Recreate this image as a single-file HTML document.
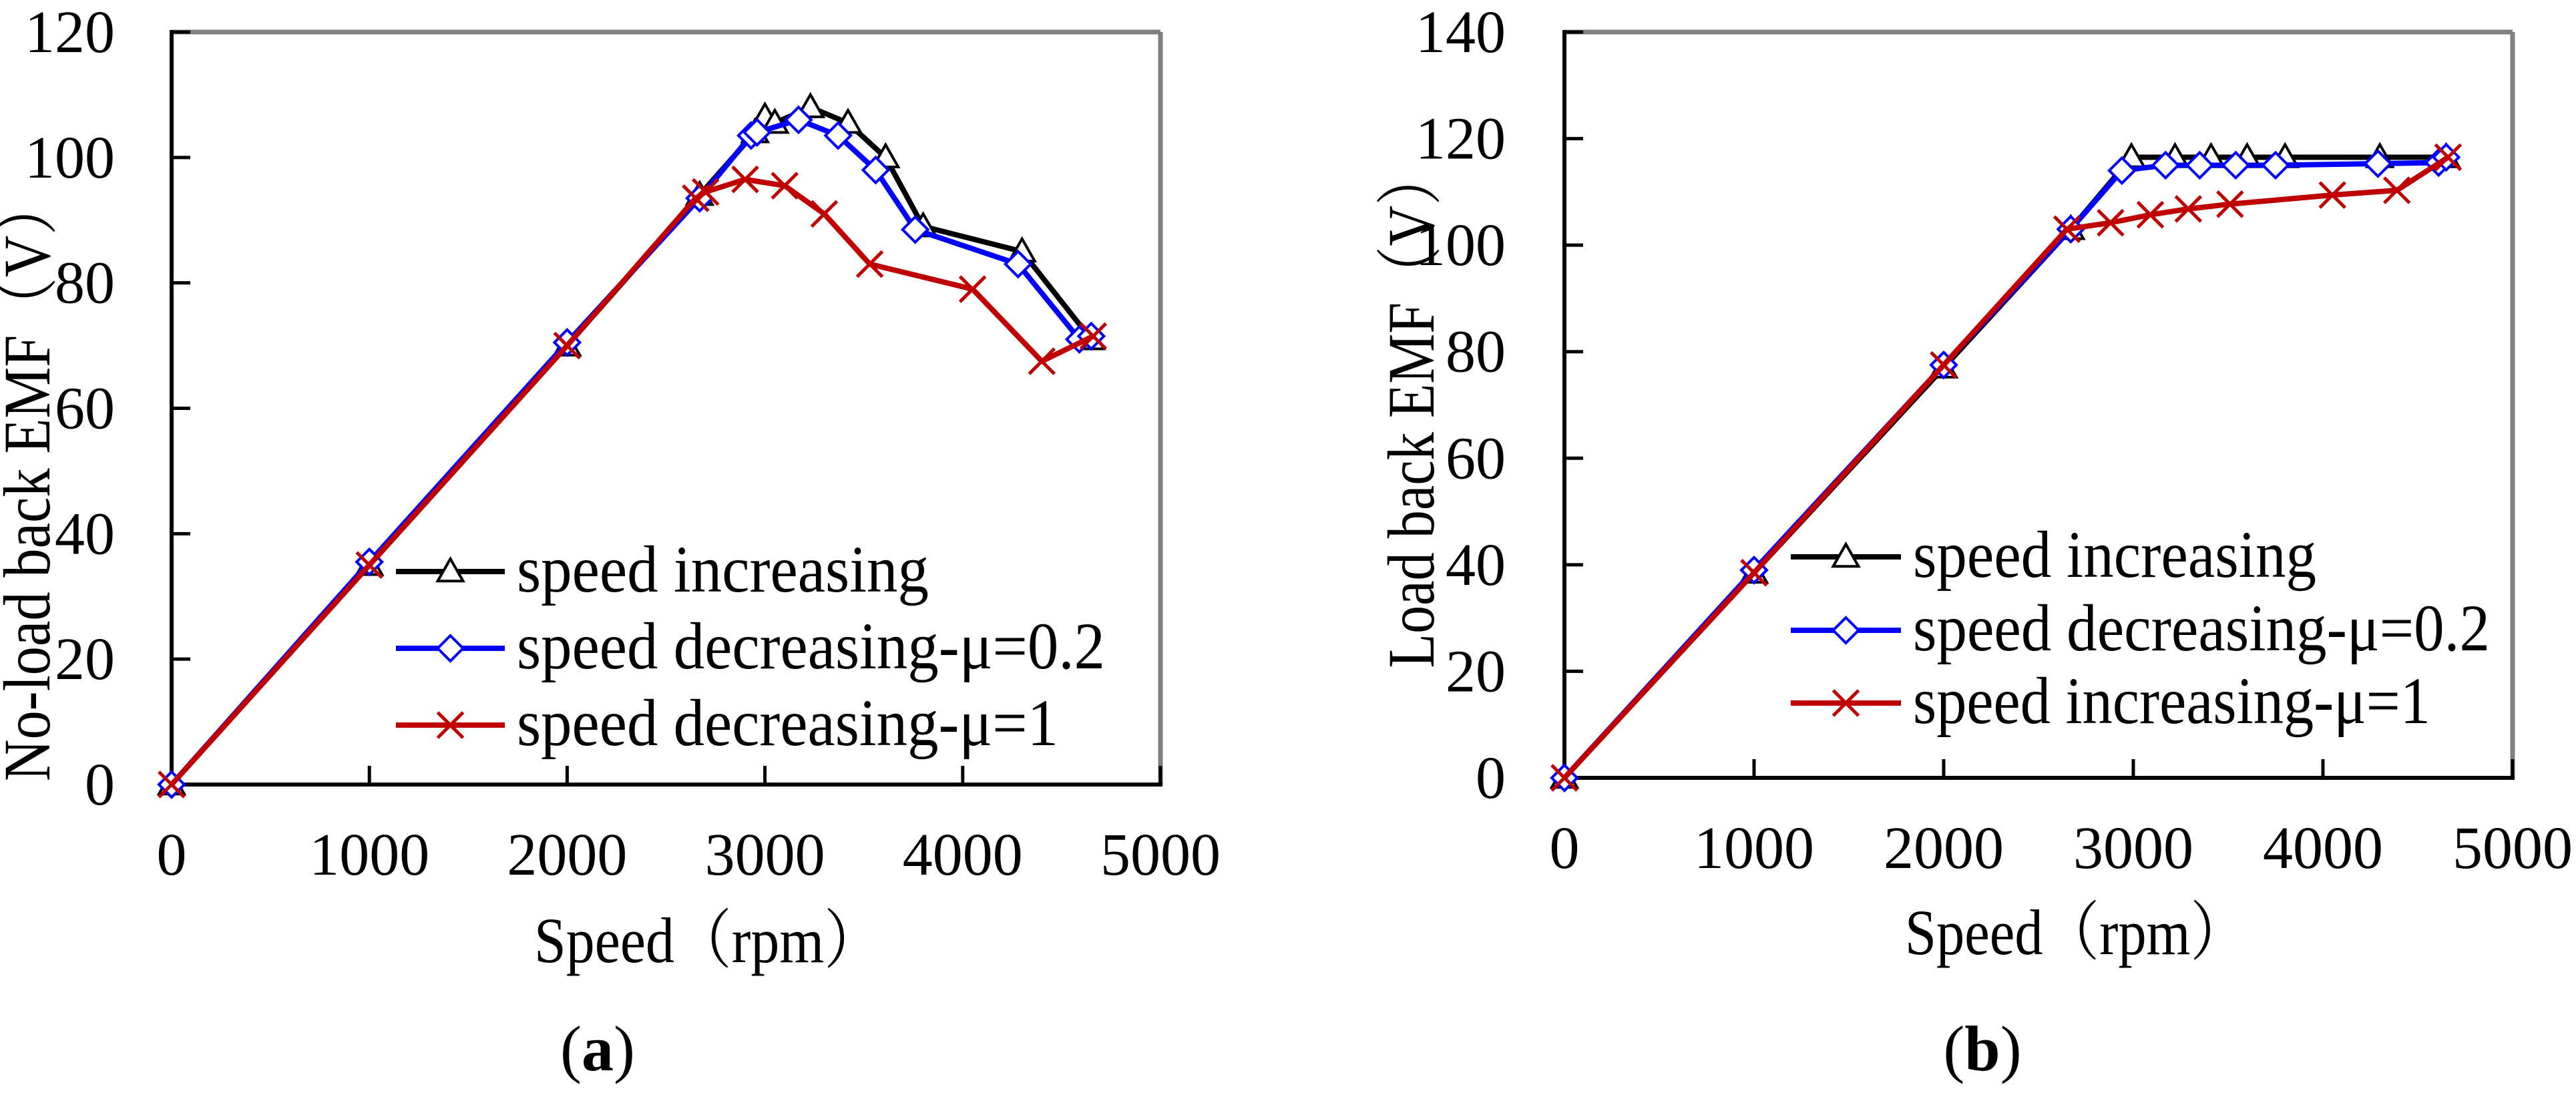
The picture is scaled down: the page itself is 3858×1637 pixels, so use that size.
<!DOCTYPE html>
<html><head><meta charset="utf-8"><style>
html,body{margin:0;padding:0;background:#fff;}
svg{display:block;}
svg text{font-family:"Liberation Serif","Times New Roman","Noto Serif CJK SC",serif;fill:#000;}
</style></head><body>
<svg id="fig" width="3858" height="1637" viewBox="0 0 3858 1637" xmlns="http://www.w3.org/2000/svg" font-family="Liberation Serif, Times New Roman, Noto Serif CJK SC, serif"></svg>
<script>
// ---- Chart (a) data ----
const aIncX = [0,1000,2000,2670,2950,3000,3050,3230,3420,3610,3800,4300,4650];
const aIncY = [0,35,70,94,104,106.5,105.5,108,105.5,100,89,85,71];
const aDec02X = [0,1000,2000,2670,2930,2960,3170,3370,3560,3760,4280,4590,4650];
const aDec02Y = [0,35.5,70.5,93.5,103.5,104,106,103.5,98,88.5,83,71,71.5];
const aDec1X = [0,1000,2000,2650,2700,2900,3100,3300,3530,4050,4400,4660];
const aDec1Y = [0,35,70,93.5,94.5,96.5,95.5,91,83,79,67.5,71.5];
const aYTicks = [0,20,40,60,80,100,120];
// ---- Chart (b) data ----
const bIncX = [0,1000,2000,2670,2990,3220,3410,3600,3800,4300,4650];
const bIncY = [0,38.5,77,103,116.5,116.5,116.5,116.5,116.5,116.5,116.5];
const bDec02X = [0,1000,2000,2670,2940,3170,3350,3540,3750,4290,4610,4650];
const bDec02Y = [0,39,77.5,103,114,115,115,115,115,115.3,115.5,116.5];
const bInc1X = [0,1000,2000,2650,2880,3090,3290,3510,4050,4390,4660];
const bInc1Y = [0,38.5,77.5,103,104.2,105.7,106.8,107.7,109.4,110.3,116.5];
const bYTicks = [0,20,40,60,80,100,120,140];
const xTicks = [0,1000,2000,3000,4000,5000];

const NS="http://www.w3.org/2000/svg";
const FF='"Liberation Serif","Times New Roman","Noto Serif CJK SC",serif';
const svg=document.getElementById('fig');
function mk(tag,attrs,parent){const e=document.createElementNS(NS,tag);for(const k in attrs)e.setAttribute(k,attrs[k]);if(tag==='text')e.style.fontFamily=FF;(parent||svg).appendChild(e);return e;}

function drawChart(cfg){
  const g=mk('g',{});
  
  
  const sx=v=>cfg.L+(v/5000)*(cfg.R-cfg.L);
  const sy=v=>cfg.B-(v/cfg.ymax)*(cfg.B-cfg.T);
  const fr=mk('g',{},g);
  
  
  mk('line',{x1:cfg.L,y1:cfg.T,x2:cfg.R,y2:cfg.T,stroke:'#808080','stroke-width':7},fr);
  mk('line',{x1:cfg.R,y1:cfg.T,x2:cfg.R,y2:cfg.B,stroke:'#808080','stroke-width':7},fr);
  mk('line',{x1:cfg.L,y1:cfg.T-3,x2:cfg.L,y2:cfg.B+3,stroke:'#000','stroke-width':6},fr);
  mk('line',{x1:cfg.L-3,y1:cfg.B,x2:cfg.R+3,y2:cfg.B,stroke:'#000','stroke-width':6},fr);
  cfg.yTicks.forEach(v=>{
    const y=sy(v);
    const tk=mk('line',{x1:cfg.L,y1:y,x2:cfg.L+28,y2:y,stroke:'#000','stroke-width':5},g);
    
    
    const t=mk('text',{x:cfg.yLabX,y:y+30,'text-anchor':'end','font-size':90},g);
    
    
    t.textContent=v;
  });
  xTicks.forEach(v=>{
    const x=sx(v);
    const tk=mk('line',{x1:x,y1:cfg.B,x2:x,y2:cfg.B-28,stroke:'#000','stroke-width':5},g);
    
    
    const t=mk('text',{x:x,y:cfg.xLabY,'text-anchor':'middle','font-size':90},g);
    
    
    t.textContent=v;
  });
  cfg.series.forEach(s=>{
    const sg=mk('g',{},g);
    
    
    const pts=s.x.map((v,i)=>sx(v)+','+sy(s.y[i])).join(' ');
    mk('polyline',{points:pts,fill:'none',stroke:s.color,'stroke-width':8,'stroke-linejoin':'round'},sg);
    s.x.forEach((v,i)=>{marker(sg,s.m,sx(v),sy(s.y[i]),s.color);});
  });
  cfg.legend.forEach((l,i)=>{
    const lg=mk('g',{},g);
    
    
    mk('line',{x1:cfg.legX1,y1:l.ly,x2:cfg.legX2,y2:l.ly,stroke:l.color,'stroke-width':8},lg);
    marker(lg,l.m,(cfg.legX1+cfg.legX2)/2,l.ly,l.color);
    const t=mk('text',{x:cfg.legTX,y:l.ly+30,'font-size':100,textLength:l.len,lengthAdjust:'spacingAndGlyphs'},lg);
    t.textContent=l.text;
  });
  const yt=mk('text',{transform:`translate(${cfg.yTitX},${cfg.yTitC}) rotate(-90)`,'text-anchor':'middle','font-size':100,textLength:cfg.yTitLen,lengthAdjust:'spacingAndGlyphs'},g);
  
  
  yt.textContent=cfg.yTitle;
  const xt=mk('text',{x:cfg.xTitX,y:cfg.xTitY,'font-size':96,textLength:cfg.xTitLen,lengthAdjust:'spacingAndGlyphs'},g);
  
  
  xt.textContent='Speed（rpm）';
  const cap=mk('text',{x:cfg.capX,y:1603,'text-anchor':'middle','font-size':96},g);
  
  
  cap.innerHTML='(<tspan font-weight="bold">'+cfg.cap+'</tspan>)';
}
function marker(p,m,x,y,c){
  const r=19;
  let e;
  if(m==='tri') e=mk('polygon',{points:`${x},${y-r} ${x-r},${y+r*0.75} ${x+r},${y+r*0.75}`,fill:'#fff',stroke:c,'stroke-width':4},p);
  else if(m==='dia') e=mk('polygon',{points:`${x},${y-r} ${x+r},${y} ${x},${y+r} ${x-r},${y}`,fill:'#fff',stroke:c,'stroke-width':4},p);
  else e=mk('path',{d:`M${x-r},${y-r}L${x+r},${y+r}M${x-r},${y+r}L${x+r},${y-r}`,stroke:c,'stroke-width':5},p);
  
  
}
drawChart({name:'chart-a-no-load',L:257,R:1738,T:48,B:1175,ymax:120,yTicks:aYTicks,yLabX:172,xLabY:1310,
  series:[{name:'series-speed-increasing',x:aIncX,y:aIncY,color:'#000',m:'tri'},
          {name:'series-decreasing-mu-0.2',x:aDec02X,y:aDec02Y,color:'#0000ff',m:'dia'},
          {name:'series-decreasing-mu-1',x:aDec1X,y:aDec1Y,color:'#c00000',m:'x'}],
  legX1:593,legX2:756,legTX:774,
  legend:[{ly:856,color:'#000',m:'tri',text:'speed increasing',len:617},
          {ly:971,color:'#0000ff',m:'dia',text:'speed decreasing-μ=0.2',len:881},
          {ly:1086,color:'#c00000',m:'x',text:'speed decreasing-μ=1',len:811}],
  yTitX:74,yTitC:718,yTitLen:904,yTitle:'No-load back EMF（V）',
  xTitX:800,xTitY:1441,xTitLen:520,capX:895,cap:'a'});
drawChart({name:'chart-b-load',L:2343,R:3763,T:48,B:1165,ymax:140,yTicks:bYTicks,yLabX:2255,xLabY:1300,
  series:[{name:'series-speed-increasing',x:bIncX,y:bIncY,color:'#000',m:'tri'},
          {name:'series-decreasing-mu-0.2',x:bDec02X,y:bDec02Y,color:'#0000ff',m:'dia'},
          {name:'series-increasing-mu-1',x:bInc1X,y:bInc1Y,color:'#c00000',m:'x'}],
  legX1:2682,legX2:2847,legTX:2865,
  legend:[{ly:834,color:'#000',m:'tri',text:'speed increasing',len:604},
          {ly:944,color:'#0000ff',m:'dia',text:'speed decreasing-μ=0.2',len:864},
          {ly:1053,color:'#c00000',m:'x',text:'speed increasing-μ=1',len:775}],
  yTitX:2147,yTitC:612,yTitLen:777,yTitle:'Load back EMF（V）',
  xTitX:2853,xTitY:1429,xTitLen:512,capX:2969,cap:'b'});
</script>
</body></html>
